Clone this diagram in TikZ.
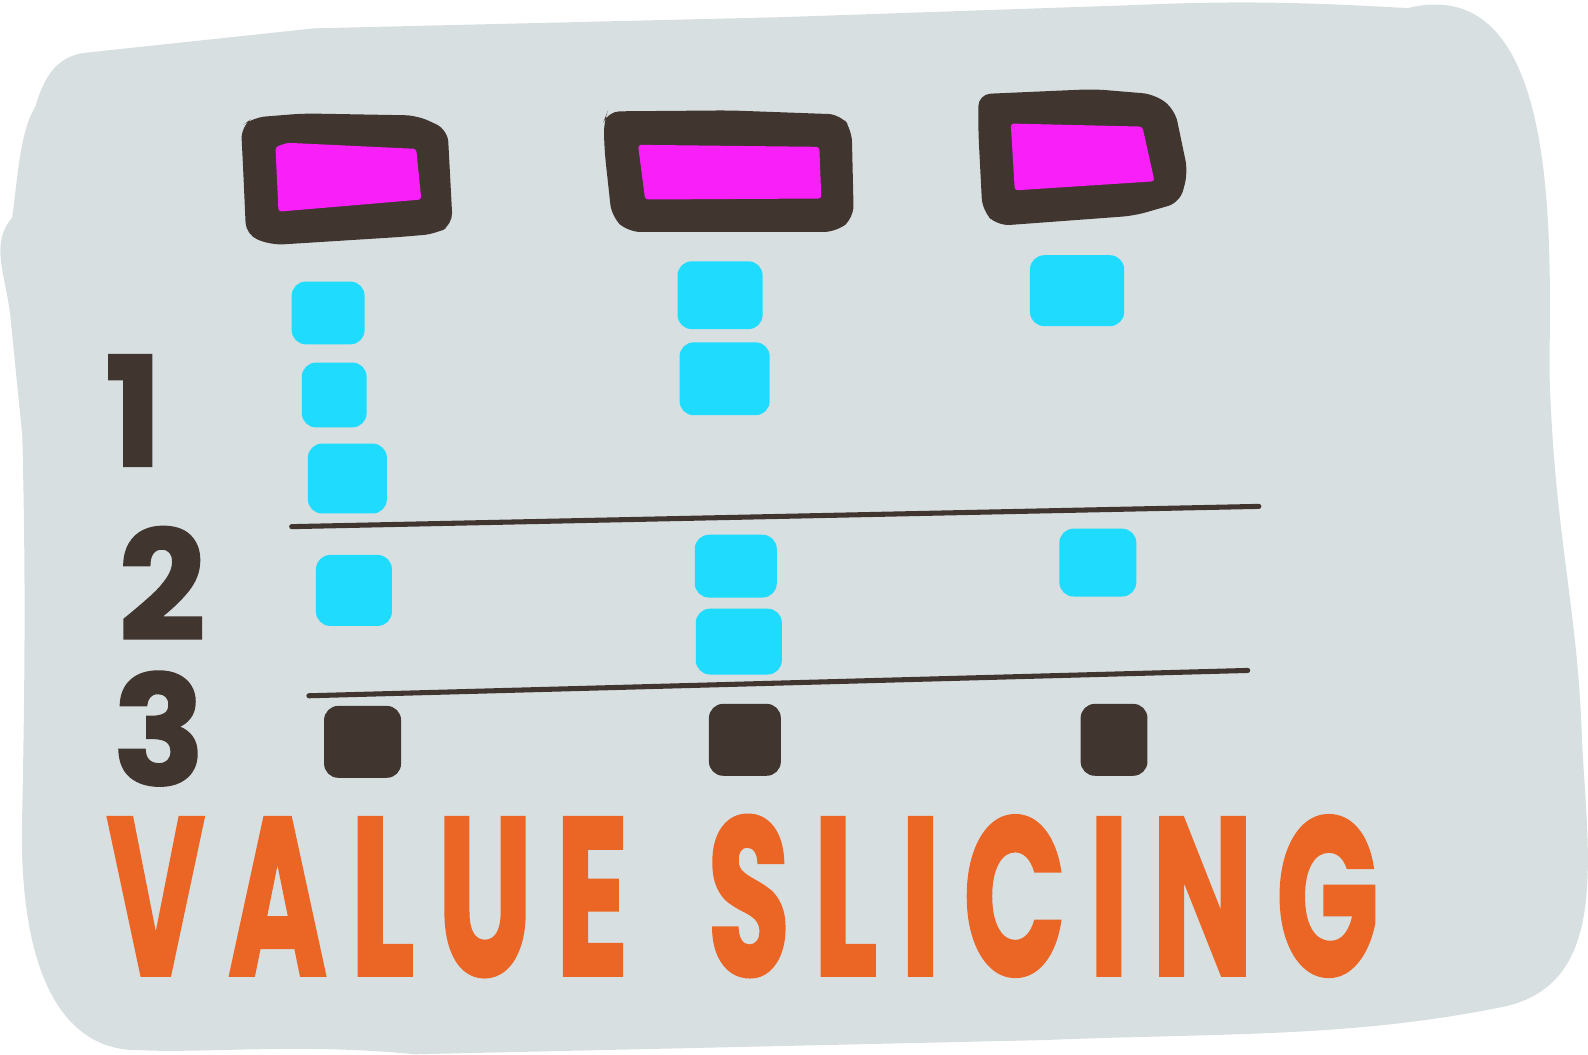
\documentclass[tikz,border=0pt]{standalone}
\usepackage{fontspec}
\setmainfont{Poppins}
\newfontfamily\thickfont[FakeBold=1.5]{Poppins}
\definecolor{bggray}{HTML}{D8DFE1}
\definecolor{ink}{HTML}{40362F}
\definecolor{mag}{HTML}{F91FF8}
\definecolor{cyanb}{HTML}{1FDCFF}
\definecolor{orng}{HTML}{EB6625}
\tikzset{
  cellblob/.style={fill=cyanb, rounded corners=14pt},
  darkblob/.style={fill=ink, rounded corners=14pt},
  frameouter/.style={fill=ink, rounded corners=12pt},
  frameinner/.style={fill=mag, rounded corners=3pt},
  rowline/.style={draw=ink, line width=5pt, line cap=round},
  digit/.style={text=ink, font=\thickfont\fontsize{150}{150}\selectfont\bfseries, inner sep=0pt, anchor=base},
  title/.style={text=orng, inner sep=0pt, anchor=base west}
}
\begin{document}
\begin{tikzpicture}[x=1pt,y=-1pt]
\useasboundingbox (0,0) rectangle (1568,1041);
% background blob
\fill[bggray] (85,52) -- (310,28) -- (770,17) -- (1120,5)
  .. controls (1230,0) and (1300,3) .. (1390,8)
  .. controls (1545,-30) and (1530,250) .. (1530,370)
  .. controls (1535,530) and (1558,600) .. (1562,730)
  .. controls (1568,850) and (1590,975) .. (1480,995)
  .. controls (1330,1025) and (1200,1020) .. (1030,1027)
  -- (410,1041)
  .. controls (300,1030) and (200,1040) .. (140,1037)
  .. controls (20,1040) and (20,860) .. (22,800)
  .. controls (25,650) and (25,550) .. (22,430)
  -- (10,310)
  .. controls (5,270) and (-10,240) .. (12,215)
  .. controls (18,170) and (20,130) .. (35,105)
  .. controls (45,70) and (60,55) .. (85,52) -- cycle;
% frames
\fill[frameouter] (250,116) -- (300,112) -- (412,114) -- (442,128) -- (447,222) -- (430,231) -- (395,234) -- (268,242) -- (243,232) -- (240,165) -- (238,125) -- cycle;
\fill[frameinner] (272,145) -- (284,141) -- (411,147) -- (416,197) -- (275,209) -- cycle;
\fill[frameouter] (600,110) -- (720,109) -- (830,113) -- (841,128) -- (843,215) -- (826,229) -- (620,229) -- (604,214) -- (597,150) -- (596,120) -- cycle;
\fill[frameinner] (630,143) -- (809,145) -- (811,196) -- (637,197) -- cycle;
\fill[frameouter] (966,93) -- (1080,88) -- (1140,93) -- (1160,108) -- (1173,170) -- (1165,200) -- (1120,213) -- (985,223) -- (970,208) -- (966,130) -- cycle;
\fill[frameinner] (998,122) -- (1128,125) -- (1140,179) -- (1002,188) -- cycle;
% cyan cells
\fill[cellblob] (288,278) rectangle (360,340);
\fill[cellblob] (298,358) rectangle (362,422);
\fill[cellblob] (304,438) rectangle (382,507);
\fill[cellblob] (312,548) rectangle (387,618);
\fill[cellblob] (669,258) rectangle (753,325);
\fill[cellblob] (671,338) rectangle (760,410);
\fill[cellblob] (686,528) rectangle (767,590);
\fill[cellblob] (687,601) rectangle (772,666);
\fill[cellblob] (1017,252) rectangle (1110,322);
\fill[cellblob] (1046,522) rectangle (1122,589);
% dark cells
\fill[darkblob] (320,697) rectangle (396,768);
\fill[darkblob] (700,695) rectangle (771,766);
\fill[darkblob] (1067,695) rectangle (1133,766);
% row lines
\coordinate (l1a) at (288,520); \coordinate (l1b) at (1243,500);
\coordinate (l2a) at (305,687); \coordinate (l2b) at (1232,662);
\draw[rowline] (l1a) -- (l1b);
\draw[rowline] (l2a) -- (l2b);
% digits
\node[digit] (d1) at (132,460) {1};
\node[digit] (d2) at (160,632) {2};
\node[digit] (d3) at (157,775) {3};
% title
\node[title, font=\thickfont\fontsize{222}{222}\selectfont\bfseries\addfontfeature{LetterSpace=17}] (ttl) at (105,963) {\scalebox{0.6}[1]{VALUE \hspace{45pt}SLICING}};
\end{tikzpicture}
\end{document}
